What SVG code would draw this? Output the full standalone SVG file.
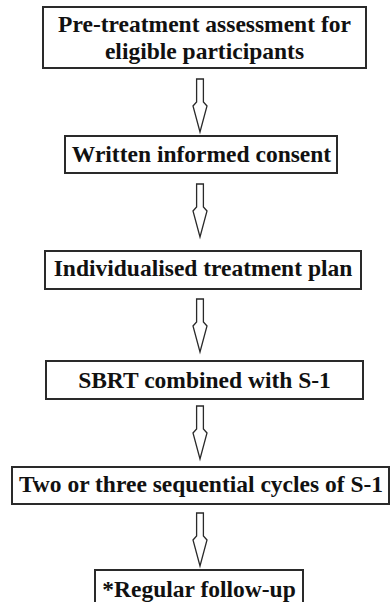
<svg xmlns="http://www.w3.org/2000/svg" width="390" height="602" viewBox="0 0 390 602">
<style>
.box{fill:#fff;stroke:#2a2a2a;stroke-width:2}
.arr{fill:#fff;stroke:#2a2a2a;stroke-width:1.3;stroke-linejoin:miter}
.lbl{font-family:"Liberation Serif",serif;font-weight:bold;font-size:23.5px;fill:#111;text-anchor:middle}
</style>
<rect width="390" height="602" fill="#fff"/>
<g id="connectors">
<path class="arr" d="M196.6,79 L203.4,79 L203.4,102 L207,106 L200,132 L193,106 L196.6,102 Z"/>
<path class="arr" d="M196.6,184 L203.4,184 L203.4,207 L207,211 L200,237 L193,211 L196.6,207 Z"/>
<path class="arr" d="M196.6,299 L203.4,299 L203.4,322 L207,326 L200,352 L193,326 L196.6,322 Z"/>
<path class="arr" d="M196.6,406 L203.4,406 L203.4,429 L207,433 L200,459 L193,433 L196.6,429 Z"/>
<path class="arr" d="M196.6,513 L203.4,513 L203.4,536 L207,540 L200,566 L193,540 L196.6,536 Z"/>
</g>
<g id="node1">
<rect class="box" x="43" y="7" width="323" height="61"/>
<text class="lbl" x="204.5" y="32">Pre-treatment assessment for</text>
<text class="lbl" x="204.5" y="59">eligible participants</text>
</g>
<g id="node2">
<rect class="box" x="65" y="136" width="272" height="37"/>
<text class="lbl" x="201.5" y="162">Written informed consent</text>
</g>
<g id="node3">
<rect class="box" x="45" y="251" width="316" height="38"/>
<text class="lbl" x="203" y="276">Individualised treatment plan</text>
</g>
<g id="node4">
<rect class="box" x="46" y="361" width="317" height="38"/>
<text class="lbl" x="204.5" y="388">SBRT combined with S-1</text>
</g>
<g id="node5">
<rect class="box" x="12" y="467" width="377" height="37"/>
<text class="lbl" x="201" y="492">Two or three sequential cycles of S-1</text>
</g>
<g id="node6">
<rect class="box" x="95" y="570" width="208" height="40"/>
<text class="lbl" x="199" y="597">*Regular follow-up</text>
</g>
</svg>
